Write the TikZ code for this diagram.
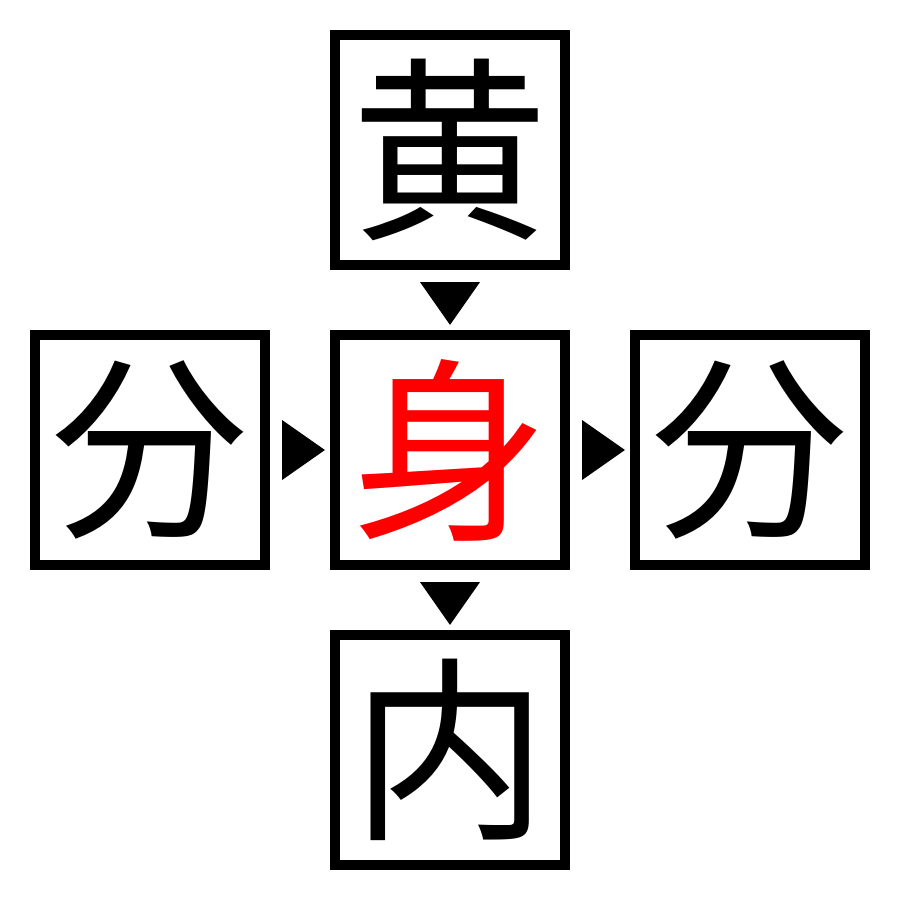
\documentclass[tikz,border=0pt]{standalone}
\usetikzlibrary{calc}
\usepackage{fontspec}
\newfontfamily\cjk{Noto Sans CJK JP}
\begin{document}
\begin{tikzpicture}[x=0.01cm,y=-0.01cm,
  charbox/.style={draw=black,line width=0.1cm,minimum size=2.3cm,inner sep=0pt,
    font=\cjk\fontsize{56}{56}\selectfont},
  marker/.style={fill=black}]
\useasboundingbox (0,0) rectangle (900,900);
\node[charbox] (top) at (450,150) {黄};
\node[charbox,text=red] (mid) at (450,450) {身};
\node[charbox] (left) at (150,450) {分};
\node[charbox] (right) at (750,450) {分};
\node[charbox] (bot) at (450,750) {内};
% markers between boxes
\fill[marker] ($(top.south)+(-30,12)$) -- ++(60,0) -- ($(mid.north)+(0,-5)$) -- cycle;
\fill[marker] ($(mid.south)+(-30,12)$) -- ++(60,0) -- ($(bot.north)+(0,-5)$) -- cycle;
\fill[marker] ($(left.east)+(12,-30)$) -- ++(0,60) -- ($(mid.west)+(-5,0)$) -- cycle;
\fill[marker] ($(mid.east)+(12,-30)$) -- ++(0,60) -- ($(right.west)+(-5,0)$) -- cycle;
\end{tikzpicture}
\end{document}
